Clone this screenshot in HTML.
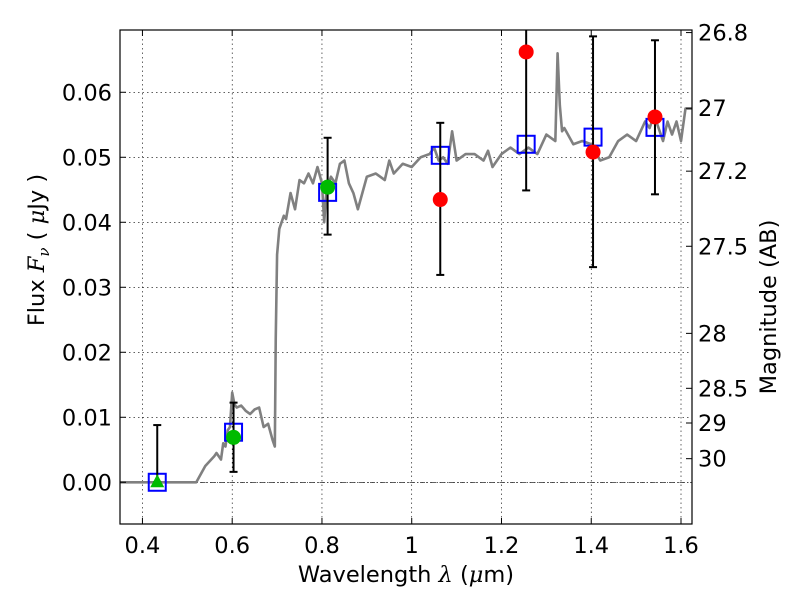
<!DOCTYPE html>
<html><head><meta charset="utf-8"><style>
body{margin:0;background:#fff}
svg{display:block;font-family:"DejaVu Sans","Liberation Sans",sans-serif}
</style></head><body>
<svg id="c" width="800" height="600"></svg>
<script>
const specLam=[0.35,0.52,0.54,0.56,0.565,0.575,0.58,0.585,0.59,0.595,0.6,0.605,0.61,0.62,0.63,0.64,0.65,0.66,0.67,0.68,0.69,0.695,0.697,0.70,0.705,0.715,0.72,0.73,0.74,0.75,0.76,0.77,0.78,0.79,0.80,0.805,0.81,0.82,0.83,0.84,0.85,0.86,0.87,0.88,0.89,0.9,0.92,0.94,0.95,0.96,0.98,1.0,1.02,1.04,1.05,1.06,1.07,1.08,1.09,1.1,1.12,1.14,1.16,1.17,1.18,1.2,1.22,1.24,1.26,1.28,1.3,1.32,1.325,1.33,1.335,1.34,1.36,1.38,1.4,1.42,1.44,1.46,1.48,1.5,1.52,1.53,1.54,1.56,1.57,1.58,1.59,1.6,1.61,1.625];
const specFlux=[0,0,0.0025,0.004,0.0045,0.0035,0.006,0.0055,0.008,0.0085,0.0138,0.012,0.0115,0.0118,0.011,0.0105,0.0112,0.0115,0.0085,0.009,0.0065,0.0055,0.022,0.035,0.039,0.041,0.0405,0.0445,0.042,0.0465,0.046,0.0475,0.046,0.0485,0.046,0.040,0.045,0.047,0.046,0.049,0.0495,0.046,0.0445,0.042,0.0445,0.047,0.0475,0.0465,0.0495,0.0475,0.049,0.0485,0.050,0.0505,0.0515,0.0495,0.050,0.049,0.054,0.0495,0.0505,0.0505,0.0495,0.051,0.0485,0.0505,0.0515,0.0505,0.0515,0.0505,0.0535,0.0525,0.066,0.058,0.054,0.0545,0.052,0.0525,0.052,0.0495,0.050,0.0525,0.0535,0.0525,0.0555,0.0545,0.0565,0.0525,0.0555,0.0535,0.0555,0.0525,0.0575,0.0575];
const modelLam=[0.433,0.603,0.8126,1.0636,1.255,1.404,1.542];
const modelFlux=[0,0.0077,0.0446,0.0503,0.052,0.0531,0.0546];
const greenLam=[0.603,0.8126];
const greenFlux=[0.0069,0.0454];
const greenLo=[0.0016,0.0381];
const greenHi=[0.01225,0.053];
const triLam=[0.433];
const triFlux=[0];
const triHi=[0.0088];
const redLam=[1.0636,1.255,1.404,1.542];
const redFlux=[0.0435,0.0662,0.0508,0.0562];
const redLo=[0.0319,0.0449,0.0331,0.0443];
const redHi=[0.0553,0.075,0.0686,0.068];
const xTicks=[0.4,0.6,0.8,1,1.2,1.4,1.6];
const xTickLabels=["0.4","0.6","0.8","1","1.2","1.4","1.6"];
const yTicks=[0,0.01,0.02,0.03,0.04,0.05,0.06];
const yTickLabels=["0.00","0.01","0.02","0.03","0.04","0.05","0.06"];
const magTicks=[26.8,27,27.2,27.5,28,28.5,29,30];
const magTickLabels=["26.8","27","27.2","27.5","28","28.5","29","30"];

const L=120,R=692,T=30,B=524,X0=0.35,X1=1.6245,Y0=-0.00642,Y1=0.06958;
const sx=v=>L+(v-X0)/(X1-X0)*(R-L);
const sy=v=>B-(v-Y0)/(Y1-Y0)*(B-T);
const svg=document.getElementById('c');
const NS='http://www.w3.org/2000/svg';
function mk(t,a,p){const e=document.createElementNS(NS,t);for(const k in a)e.setAttribute(k,a[k]);(p||svg).appendChild(e);return e;}
const defs=mk('defs',{});const cp=mk('clipPath',{id:'pc'},defs);mk('rect',{x:L,y:T,width:R-L,height:B-T},cp);
const plot=mk('g',{'clip-path':'url(#pc)'});


xTicks.forEach(v=>{const g=mk('line',{x1:sx(v),x2:sx(v),y1:T,y2:B,stroke:'#000','stroke-width':0.6,'stroke-dasharray':'1.5,3'},plot);

});
yTicks.forEach(v=>{const g=mk('line',{x1:L,x2:R,y1:sy(v),y2:sy(v),stroke:'#000','stroke-width':0.6,'stroke-dasharray':'1.5,3'},plot);

});
const zl=mk('line',{x1:L,x2:R,y1:sy(0),y2:sy(0),stroke:'#000','stroke-width':0.6,'stroke-dasharray':'5,2,1,2'},plot);


const sp=mk('polyline',{points:specLam.map((l,i)=>sx(l)+','+sy(specFlux[i])).join(' '),fill:'none',stroke:'#808080','stroke-width':2.6,'stroke-linejoin':'round'},plot);


modelLam.forEach((l,i)=>{const s=mk('rect',{x:sx(l)-8.5,y:sy(modelFlux[i])-8.5,width:17,height:17,fill:'none',stroke:'#0000ff','stroke-width':2},plot);

});
function ebar(x,lo,hi){const g=mk('g',{stroke:'#000','stroke-width':2},plot);


mk('line',{x1:sx(x),x2:sx(x),y1:sy(lo),y2:sy(hi)},g);
mk('line',{x1:sx(x)-4,x2:sx(x)+4,y1:sy(lo),y2:sy(lo)},g);
mk('line',{x1:sx(x)-4,x2:sx(x)+4,y1:sy(hi),y2:sy(hi)},g);}
triLam.forEach((l,i)=>{ebar(l,triFlux[i],triHi[i]);
const x=sx(l),y=sy(triFlux[i]);const t=mk('polygon',{points:`${x},${y-8} ${x-7},${y+5} ${x+7},${y+5}`,fill:'#00bb00'},plot);

});
greenLam.forEach((l,i)=>{ebar(l,greenLo[i],greenHi[i]);
const c=mk('circle',{cx:sx(l),cy:sy(greenFlux[i]),r:7.5,fill:'#00bb00'},plot);

});
redLam.forEach((l,i)=>{ebar(l,redLo[i],redHi[i]);
const c=mk('circle',{cx:sx(l),cy:sy(redFlux[i]),r:7.5,fill:'#ff0000'},plot);

});
const fr=mk('rect',{x:L,y:T,width:R-L,height:B-T,fill:'none',stroke:'#000','stroke-width':1.2});


xTicks.forEach((v,i)=>{mk('line',{x1:sx(v),x2:sx(v),y1:B,y2:B-6,stroke:'#000'});mk('line',{x1:sx(v),x2:sx(v),y1:T,y2:T+6,stroke:'#000'});
const t=mk('text',{x:sx(v),y:B+29,'text-anchor':'middle','font-size':22.5});t.textContent=xTickLabels[i];

});
yTicks.forEach((v,i)=>{mk('line',{x1:L,x2:L+6,y1:sy(v),y2:sy(v),stroke:'#000'});
const t=mk('text',{x:L-8,y:sy(v)+8,'text-anchor':'end','font-size':22.5});t.textContent=yTickLabels[i];

});
magTicks.forEach((m,i)=>{const f=Math.pow(10,(23.9-m)/2.5);const y=sy(f);
mk('line',{x1:R,x2:R-6,y1:y,y2:y,stroke:'#000'});
const t=mk('text',{x:R+6,y:y+8,'font-size':22.5});t.textContent=magTickLabels[i];

});
const xl=mk('text',{x:406,y:582,'text-anchor':'middle','font-size':22.5,'xml:space':'preserve'});xl.innerHTML='Wavelength  <tspan font-style="italic" font-family="DejaVu Serif">λ</tspan> (<tspan font-style="italic" font-family="DejaVu Serif">μ</tspan>m)';


const yl=mk('text',{x:0,y:0,'text-anchor':'middle','font-size':22.5,transform:'translate(44,250) rotate(-90)','xml:space':'preserve'});yl.innerHTML='Flux  <tspan font-style="italic" font-family="DejaVu Serif">F</tspan><tspan font-style="italic" font-family="DejaVu Serif" font-size="15" dy="5">ν</tspan><tspan dy="-5">  (  </tspan><tspan font-style="italic" font-family="DejaVu Serif">μ</tspan>Jy )';


const rl=mk('text',{x:0,y:0,'text-anchor':'middle','font-size':22.5,transform:'translate(776,307) rotate(-90)'});rl.textContent='Magnitude (AB)';


</script>
</body></html>
